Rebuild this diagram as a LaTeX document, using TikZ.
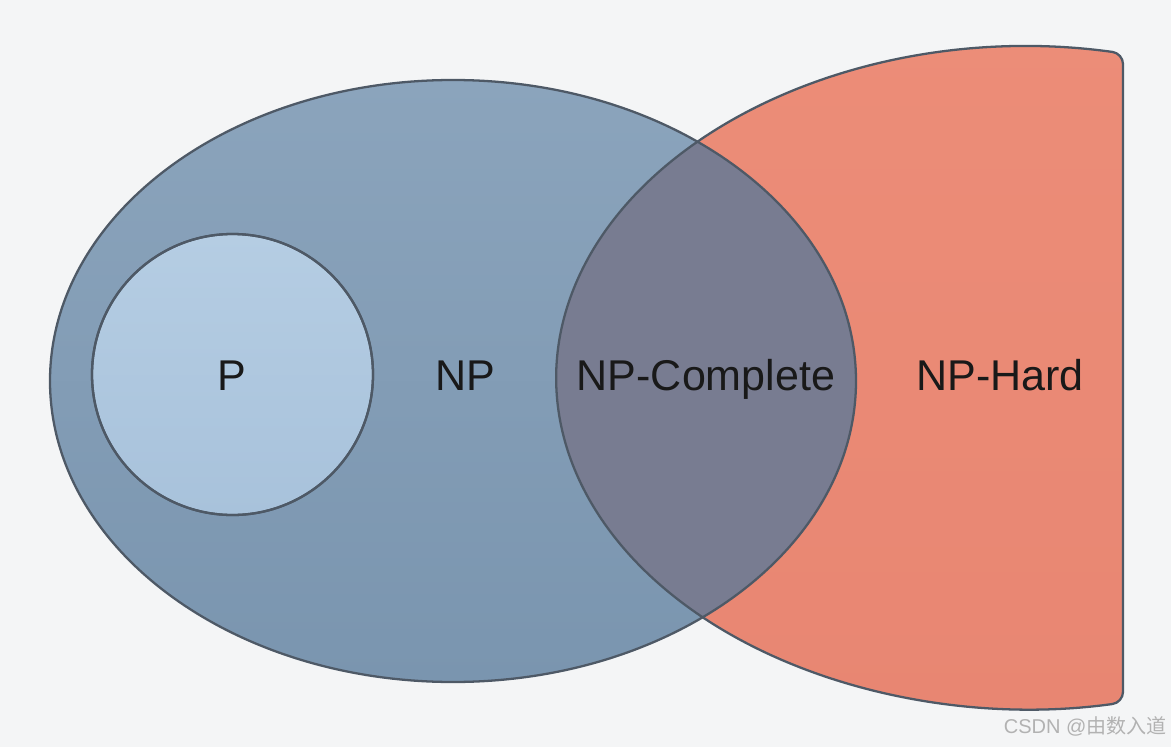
\documentclass[tikz,border=0pt]{standalone}
\usepackage{fontspec}
\setmainfont{Liberation Sans}
\newfontfamily\cjkfont{Noto Sans CJK SC}
\begin{document}
\begin{tikzpicture}[x=0.02cm,y=-0.02cm,
  edge/.style={draw=edgegray,line width=1.3pt},
  lab/.style={font=\fontsize{24.5}{28}\selectfont,text=black!90,anchor=base,inner sep=0pt},
  wm/.style={font=\fontsize{11.4}{13}\selectfont,text=wmgray,anchor=base east,inner sep=0pt}]
\definecolor{bg}{HTML}{F4F5F6}
\definecolor{edgegray}{HTML}{4E5966}
\definecolor{nptop}{HTML}{8BA4BC}
\definecolor{npbot}{HTML}{7A95AF}
\definecolor{hardtop}{HTML}{EC8D78}
\definecolor{hardbot}{HTML}{E88672}
\definecolor{overlap}{HTML}{787C91}
\definecolor{ptop}{HTML}{B5CDE3}
\definecolor{pbot}{HTML}{A8C2DB}
\definecolor{wmgray}{HTML}{B2B2B2}
\fill[bg] (0,0) rectangle (1171,747);
\useasboundingbox (0,0) rectangle (1171,747);
% NP ellipse
\shade[top color=nptop,bottom color=npbot] (453,381) ellipse[x radius=403,y radius=301];
% NP-Hard shape
\shade[top color=hardtop,bottom color=hardbot,rounded corners=6]
  (1123,53.4) arc[start angle=-78.7,end angle=-281.3,x radius=474,y radius=331] -- cycle;
% overlap (NP-Complete)
\begin{scope}
  \clip (453,381) ellipse[x radius=403,y radius=301];
  \fill[overlap] (1123,53.4) arc[start angle=-78.7,end angle=-281.3,x radius=474,y radius=331] -- cycle;
\end{scope}
% outlines
\draw[edge] (453,381) ellipse[x radius=403,y radius=301];
\draw[edge,rounded corners=6]
  (1123,53.4) arc[start angle=-78.7,end angle=-281.3,x radius=474,y radius=331] -- cycle;
% P circle
\shade[top color=ptop,bottom color=pbot,edge] (232.5,374.5) circle[radius=140.5];
\draw[edge] (232.5,374.5) circle[radius=140.5];
% labels
\node[lab] (p) at (232,390) {P};
\node[lab] (np) at (465,390) {NP};
\node[lab] (npc) at (706,390) {NP-Complete};
\node[lab] (nph) at (1000,390) {NP-Hard};
\node[wm] (wm) at (1167,733) {CSDN @{\cjkfont 由数入道}};
\end{tikzpicture}
\end{document}
